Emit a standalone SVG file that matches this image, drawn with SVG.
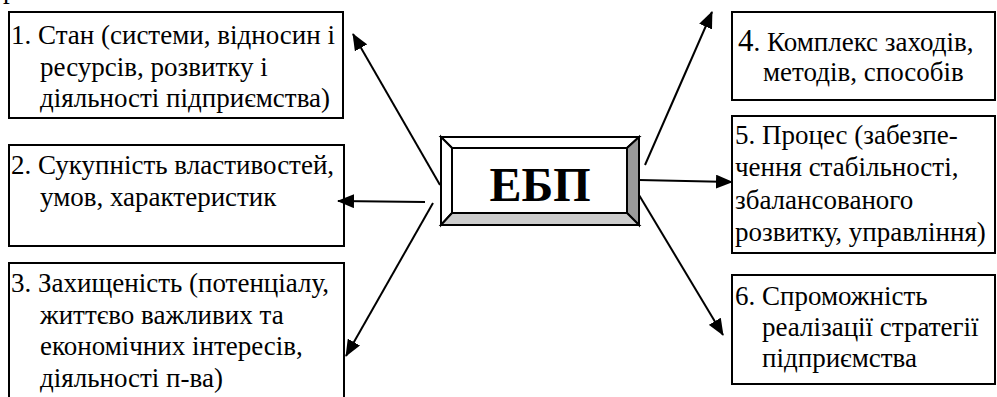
<svg xmlns="http://www.w3.org/2000/svg" width="997" height="397" viewBox="0 0 997 397">
<style>
.box{fill:#fff;stroke:#000;stroke-width:2}
.t{font-family:"Liberation Serif","Times New Roman",serif;font-size:27px;fill:#000}
.con{stroke:#000;stroke-width:2;fill:none;marker-end:url(#ah)}
.bev{stroke:#000;stroke-width:2;stroke-linejoin:miter}
</style>
<defs>
<marker id="ah" markerUnits="userSpaceOnUse" markerWidth="18" markerHeight="14" refX="16" refY="7" orient="auto" viewBox="0 0 18 14">
<path d="M0,0 L17,7 L0,14 z" fill="#000"/>
</marker>
</defs>
<rect width="997" height="397" fill="#fff"/>
<text class="t" x="3" y="-2">р</text>
<g id="n1">
<rect class="box" x="9" y="12" width="334" height="106"/>
<text class="t" x="11" y="44">1. Стан (системи, відносин і</text>
<text class="t" x="40" y="76">ресурсів, розвитку і</text>
<text class="t" x="40" y="107">діяльності підприємства)</text>
</g>
<g id="n2">
<rect class="box" x="9" y="145" width="335" height="101"/>
<text class="t" x="11" y="174">2. Сукупність властивостей,</text>
<text class="t" x="40" y="206">умов, характеристик</text>
</g>
<g id="n3">
<rect class="box" x="9" y="263" width="335" height="150"/>
<text class="t" x="11" y="292">3. Захищеність (потенціалу,</text>
<text class="t" x="40" y="324">життєво важливих та</text>
<text class="t" x="40" y="355">економічних інтересів,</text>
<text class="t" x="40" y="387">діяльності п-ва)</text>
</g>
<g id="n4">
<rect class="box" x="732" y="12" width="263" height="88"/>
<text class="t" x="738" y="51"><tspan font-size="31">4</tspan>. Комплекс заходів,</text>
<text class="t" x="763" y="81">методів, способів</text>
</g>
<g id="n5">
<rect class="box" x="732" y="116" width="263" height="137"/>
<text class="t" x="735" y="144">5. Процес (забезпе-</text>
<text class="t" x="735" y="176">чення стабільності,</text>
<text class="t" x="735" y="209">збалансованого</text>
<text class="t" x="735" y="241">розвитку, управління)</text>
</g>
<g id="n6">
<rect class="box" x="732" y="275" width="263" height="109"/>
<text class="t" x="735" y="305">6. Спроможність</text>
<text class="t" x="762" y="336">реалізації стратегії</text>
<text class="t" x="762" y="367">підприємства</text>
</g>
<g id="center">
<polygon class="bev" points="441,137 639,137 627,148 452,148" fill="#fff"/>
<polygon class="bev" points="441,137 452,148 452,213 441,225" fill="#fff"/>
<polygon class="bev" points="639,137 639,225 627,213 627,148" fill="#999"/>
<polygon class="bev" points="441,225 452,213 627,213 639,225" fill="#ccc"/>
<rect x="452" y="148" width="175" height="65" fill="#fff" stroke="#000" stroke-width="2"/>
<text x="540" y="201" text-anchor="middle" font-family="'Liberation Serif','Times New Roman',serif" font-size="48" font-weight="bold">ЕБП</text>
</g>
<g id="connectors">
<line class="con" x1="440" y1="185" x2="353" y2="34"/>
<line class="con" x1="425" y1="202" x2="338" y2="201"/>
<line class="con" x1="433" y1="203" x2="346" y2="356"/>
<line class="con" x1="645" y1="165" x2="712" y2="12"/>
<line class="con" x1="639" y1="180" x2="732" y2="182"/>
<line class="con" x1="639" y1="195" x2="723" y2="335"/>
</g>
</svg>
